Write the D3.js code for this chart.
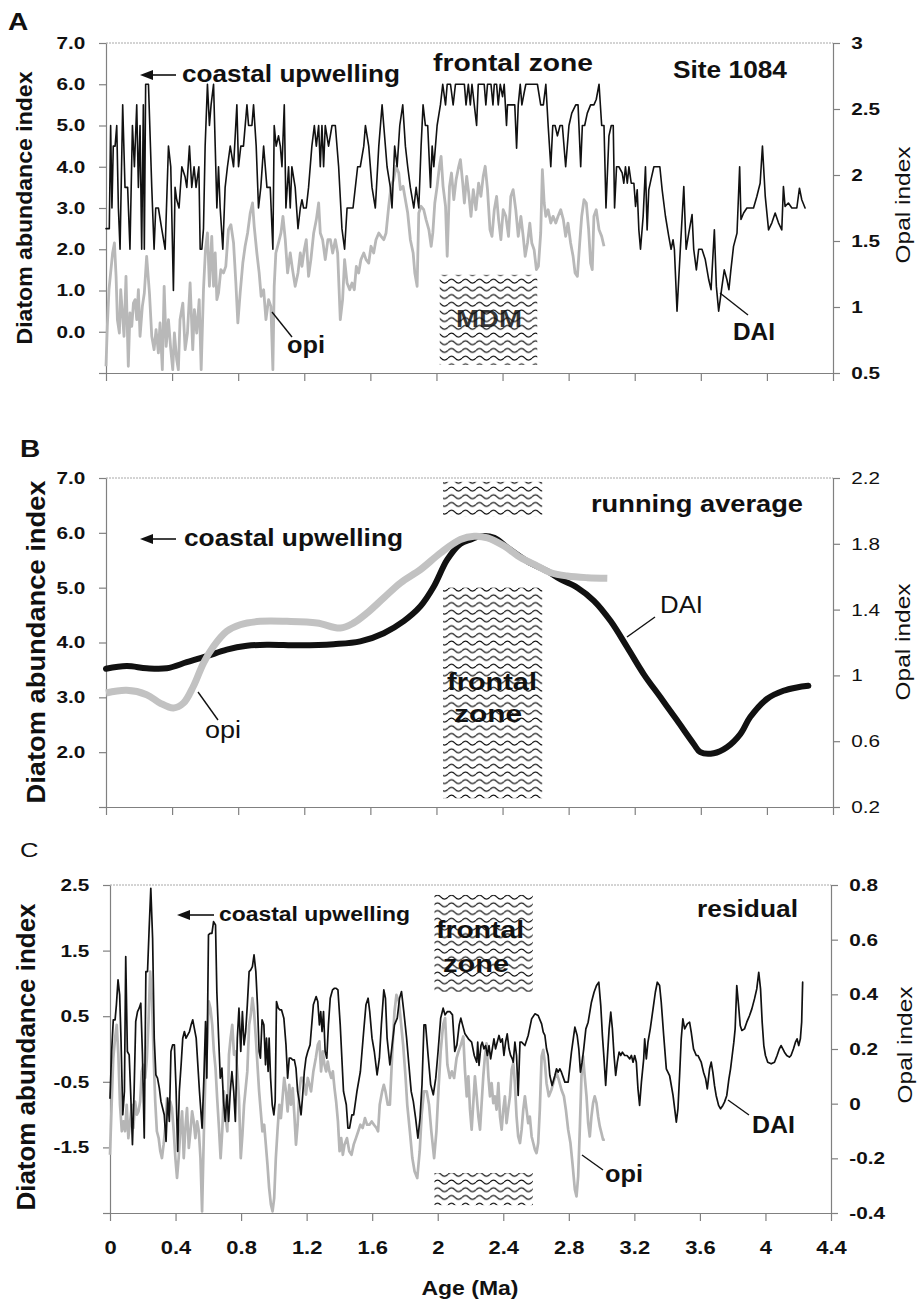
<!DOCTYPE html>
<html>
<head>
<meta charset="utf-8">
<script src="https://cdn.jsdelivr.net/npm/d3@7/dist/d3.min.js"></script>
<style>
  body { margin: 0; background: #fff; }
  text { font-family: "Liberation Sans", Arial, sans-serif; fill: #111; }
</style>
</head>
<body>
<div id="chart"></div>
<script>
// ---- data ----------------------------------------------------------------
const ageTicks = [0, 0.4, 0.8, 1.2, 1.6, 2, 2.4, 2.8, 3.2, 3.6, 4, 4.4];
const leftTicksA = [-1, 0, 1, 2, 3, 4, 5, 6, 7];
const rightTicksA = [0.5, 1, 1.5, 2, 2.5, 3];
const leftTicksB = [1, 2, 3, 4, 5, 6, 7];
const rightTicksB = [0.2, 0.6, 1, 1.4, 1.8, 2.2];
const leftTicksC = [-2.5, -1.5, -0.5, 0.5, 1.5, 2.5];
const rightTicksC = [-0.4, -0.2, 0, 0.2, 0.4, 0.6, 0.8];

// A: raw diatom abundance index [age Ma, DAI]
const daiA = [[0,2.5],[0.020,2.5],[0.028,5.0],[0.036,3.0],[0.044,4.5],[0.055,4.5],[0.065,5.0],[0.075,3.0],[0.085,2.0],[0.101,5.5],[0.115,3.5],[0.131,3.5],[0.145,2.0],[0.160,5.0],[0.172,4.0],[0.186,5.5],[0.196,3.5],[0.206,5.0],[0.216,2.0],[0.226,5.5],[0.232,2.0],[0.240,6.0],[0.257,6.0],[0.277,3.5],[0.291,2.0],[0.301,3.0],[0.317,3.0],[0.337,2.5],[0.358,2.0],[0.378,4.5],[0.392,4.0],[0.408,1.0],[0.418,3.5],[0.428,3.2],[0.442,3.0],[0.459,4.0],[0.479,3.75],[0.489,3.5],[0.505,4.5],[0.519,3.5],[0.533,4.0],[0.545,3.5],[0.562,4.0],[0.570,2.0],[0.580,2.0],[0.590,2.5],[0.600,4.5],[0.614,6.0],[0.626,5.0],[0.636,5.5],[0.651,6.0],[0.661,4.5],[0.671,3.0],[0.681,4.0],[0.691,3.0],[0.707,2.0],[0.721,3.5],[0.735,4.0],[0.752,4.5],[0.772,4.0],[0.792,5.5],[0.802,4.0],[0.816,4.5],[0.832,4.5],[0.853,5.5],[0.863,5.0],[0.883,5.0],[0.893,5.5],[0.909,4.5],[0.923,3.0],[0.937,3.5],[0.954,4.5],[0.974,3.5],[0.994,3.5],[1.010,2.0],[1.018,5.0],[1.030,4.5],[1.044,4.75],[1.055,4.5],[1.065,4.0],[1.079,5.5],[1.089,3.0],[1.105,4.0],[1.115,3.0],[1.125,4.0],[1.145,3.5],[1.162,2.5],[1.176,3.0],[1.186,3.2],[1.196,3.0],[1.212,3.0],[1.226,3.5],[1.246,4.5],[1.261,5.0],[1.273,4.5],[1.287,5.0],[1.297,4.0],[1.307,5.0],[1.317,4.0],[1.327,5.0],[1.347,4.5],[1.368,5.0],[1.388,5.0],[1.408,4.0],[1.428,2.5],[1.444,2.0],[1.459,3.0],[1.479,3.0],[1.495,3.0],[1.509,3.5],[1.523,4.0],[1.539,4.0],[1.560,4.5],[1.570,5.0],[1.590,4.5],[1.610,3.5],[1.630,3.0],[1.651,4.5],[1.671,5.5],[1.701,4.0],[1.721,3.5],[1.731,3.0],[1.747,4.5],[1.762,4.0],[1.778,5.0],[1.796,5.5],[1.812,4.5],[1.826,4.0],[1.842,3.5],[1.863,3.0],[1.877,3.5],[1.893,3.0],[1.907,4.5],[1.919,5.5],[1.933,5.0],[1.947,5.0],[1.964,3.5],[1.974,4.5],[1.984,4.0],[1.994,4.5],[2.004,5.0],[2.024,5.5],[2.038,6.0],[2.055,5.5],[2.065,6.0],[2.085,6.0],[2.101,5.5],[2.115,6.0],[2.145,6.0],
  [2.169,6.0],[2.179,5.5],[2.193,6.0],[2.205,5.5],[2.215,6.0],[2.229,5.5],[2.243,5.0],[2.253,6.0],[2.273,6.0],[2.289,6.0],[2.299,5.5],[2.309,6.0],[2.330,6.0],[2.342,5.5],[2.350,6.0],[2.364,6.0],[2.374,5.5],[2.386,6.0],[2.400,5.7],[2.410,6.0],[2.424,5.0],[2.430,5.5],[2.440,5.5],[2.460,5.5],[2.474,5.5],[2.485,4.45],[2.495,5.5],[2.507,6.0],[2.517,5.5],[2.531,5.8],[2.541,6.0],[2.561,6.0],[2.611,6.0],[2.631,5.5],[2.647,5.5],[2.662,6.0],[2.676,5.0],[2.692,4.0],[2.704,5.0],[2.718,5.0],[2.732,4.75],[2.748,5.0],[2.762,5.0],[2.782,4.0],[2.802,5.0],[2.819,5.3],[2.843,5.5],[2.857,5.5],[2.873,4.0],[2.883,5.0],[2.897,5.0],[2.913,5.3],[2.933,5.5],[2.953,5.5],[2.967,5.63],[2.984,6.0],[3.000,5.0],[3.014,5.0],[3.026,3.0],[3.044,4.75],[3.058,5.0],[3.070,5.0],[3.078,3.0],[3.090,4.0],[3.104,4.0],[3.124,3.85],[3.134,3.6],[3.144,4.0],[3.155,3.6],[3.165,4.0],[3.179,3.6],[3.195,3.6],[3.205,3.04],[3.215,3.44],[3.225,2.47],[3.235,2.0],[3.251,2.8],[3.265,4.0],[3.275,2.47],[3.285,3.44],[3.299,3.7],[3.316,4.0],[3.336,4.0],[3.352,4.0],[3.366,3.44],[3.386,2.8],[3.406,2.31],[3.420,2.0],[3.432,2.23],[3.440,2.0],[3.456,0.5],[3.476,2.0],[3.497,3.52],[3.511,2.0],[3.527,2.39],[3.547,2.84],[3.557,2.0],[3.573,1.5],[3.587,2.0],[3.607,2.0],[3.627,1.75],[3.648,1.26],[3.662,1.02],[3.682,2.47],[3.694,1.1],[3.708,0.5],[3.728,1.1],[3.742,1.5],[3.758,1.26],[3.770,1.02],[3.782,1.5],[3.798,2.07],[3.819,2.39],[3.835,4.0],[3.843,2.72],[3.859,2.88],[3.879,3.0],[3.919,3.0],[3.939,3.28],[3.959,3.6],[3.973,4.5],[3.990,3.28],[4.010,2.47],[4.030,2.64],[4.050,2.88],[4.070,2.64],[4.090,2.47],[4.100,3.52],[4.110,3.04],[4.130,3.12],[4.151,3.0],[4.181,3.0],[4.197,3.48],[4.211,3.2],[4.231,3.0]];

// A: raw opal index [age Ma, opi]
const opiA = [[0.000,0.551],[0.008,0.854],[0.018,1.131],[0.028,1.258],[0.040,1.409],[0.051,1.485],[0.061,1.232],[0.069,0.904],[0.081,0.803],[0.089,1.131],[0.099,0.955],[0.109,0.778],[0.121,1.232],[0.135,0.551],[0.145,0.955],[0.156,0.854],[0.166,1.030],[0.176,1.056],[0.186,0.904],[0.196,1.131],[0.206,0.778],[0.220,1.005],[0.232,1.106],[0.246,1.384],[0.263,1.106],[0.277,0.778],[0.291,0.677],[0.303,0.828],[0.317,0.652],[0.327,0.879],[0.341,0.525],[0.352,1.157],[0.364,0.702],[0.378,0.904],[0.392,0.677],[0.404,0.525],[0.414,0.803],[0.428,0.600],[0.438,0.525],[0.448,0.904],[0.465,1.030],[0.479,0.677],[0.493,0.803],[0.509,1.182],[0.525,0.677],[0.535,0.980],[0.549,0.803],[0.564,1.056],[0.576,0.525],[0.590,1.131],[0.602,1.434],[0.614,1.561],[0.626,1.157],[0.640,1.535],[0.651,1.157],[0.661,1.409],[0.671,1.056],[0.681,1.106],[0.695,1.283],[0.711,1.258],[0.725,1.308],[0.741,1.586],[0.756,1.624],[0.772,1.485],[0.786,1.182],[0.798,0.879],[0.812,1.106],[0.828,1.333],[0.842,1.460],[0.857,1.561],[0.873,1.712],[0.887,1.788],[0.897,1.611],[0.913,1.409],[0.927,1.258],[0.939,1.081],[0.954,1.131],[0.968,0.904],[0.984,1.056],[0.998,1.005],[1.010,0.525],[1.018,1.157],[1.028,1.409],[1.044,1.485],[1.059,1.561],[1.071,1.687],[1.085,1.510],[1.099,1.258],[1.115,1.409],[1.129,1.283],[1.145,1.157],[1.162,1.258],[1.176,1.409],[1.186,1.308],[1.200,1.434],[1.212,1.510],[1.226,1.232],[1.240,1.359],[1.257,1.561],[1.273,1.662],[1.287,1.788],[1.297,1.561],[1.311,1.510],[1.327,1.359],[1.343,1.510],[1.358,1.510],[1.372,1.409],[1.388,1.510],[1.402,1.409],[1.418,0.904],[1.432,1.056],[1.444,1.359],[1.459,1.182],[1.475,1.131],[1.489,1.182],[1.503,1.131],[1.515,1.308],[1.529,1.258],[1.543,1.359],[1.560,1.409],[1.574,1.359],[1.590,1.333],[1.604,1.460],[1.620,1.409],[1.634,1.510],[1.651,1.561],[1.665,1.535],[1.681,1.510],[1.695,1.561],[1.711,1.763],[1.725,1.914],[1.741,1.965],[1.756,2.066],[1.772,2.015],[1.782,1.889],[1.798,1.914],[1.812,1.813],[1.826,1.712],[1.842,1.510],[1.859,1.409],[1.869,1.258],[1.883,1.157],[1.893,1.712],[1.907,1.763],[1.923,1.737],[1.937,1.662],[1.954,1.586],[1.968,1.460],[1.978,1.561],[1.990,1.788],[2.004,1.914],[2.018,2.066],[2.028,2.141],[2.040,1.914],[2.055,1.763],[2.065,1.384],[2.079,1.914],[2.091,2.015],[2.105,1.813],[2.119,1.965],[2.135,2.066],[2.145,2.116],
  [2.159,1.939],[2.169,1.788],[2.183,1.990],[2.195,1.864],[2.209,1.687],[2.223,1.889],[2.239,1.737],[2.255,1.939],[2.269,1.838],[2.283,1.990],[2.295,2.066],[2.309,1.889],[2.324,1.586],[2.336,1.535],[2.350,1.737],[2.364,1.838],[2.376,1.662],[2.390,1.510],[2.404,1.737],[2.420,1.687],[2.436,1.535],[2.450,1.838],[2.464,1.889],[2.480,1.737],[2.495,1.535],[2.511,1.687],[2.525,1.535],[2.537,1.384],[2.551,1.485],[2.565,1.636],[2.577,1.485],[2.591,1.434],[2.605,1.283],[2.617,1.308],[2.631,1.561],[2.641,2.040],[2.652,1.788],[2.662,1.687],[2.676,1.737],[2.692,1.636],[2.706,1.687],[2.722,1.636],[2.736,1.687],[2.752,1.737],[2.768,1.662],[2.782,1.535],[2.796,1.636],[2.812,1.485],[2.827,1.384],[2.839,1.258],[2.853,1.232],[2.867,1.485],[2.879,1.687],[2.893,1.813],[2.907,1.788],[2.921,1.586],[2.933,1.333],[2.943,1.283],[2.953,1.687],[2.967,1.737],[2.984,1.586],[3.000,1.535],[3.014,1.460]];

// B: running averages
const daiB = [[0,3.52],[0.125,3.57],[0.246,3.53],[0.368,3.53],[0.489,3.64],[0.610,3.75],[0.731,3.87],[0.853,3.94],[0.974,3.96],[1.176,3.95],[1.378,3.97],[1.539,4.02],[1.681,4.17],[1.802,4.39],[1.903,4.66],[1.984,5.02],[2.065,5.51],[2.145,5.80],[2.209,5.88],[2.269,5.94],[2.350,5.91],[2.430,5.73],[2.551,5.48],[2.672,5.30],[2.752,5.15],[2.853,5.0],[2.953,4.76],[3.054,4.39],[3.155,3.91],[3.255,3.42],[3.356,3.0],[3.456,2.58],[3.557,2.15],[3.597,2.0],[3.678,1.98],[3.758,2.09],[3.839,2.33],[3.899,2.64],[4.000,2.97],[4.100,3.12],[4.181,3.18],[4.251,3.21]];
const opiB = [[0,0.893],[0.125,0.909],[0.246,0.883],[0.327,0.832],[0.408,0.802],[0.469,0.832],[0.529,0.934],[0.590,1.075],[0.651,1.177],[0.731,1.268],[0.812,1.308],[0.933,1.329],[1.095,1.329],[1.277,1.319],[1.418,1.288],[1.499,1.319],[1.580,1.379],[1.681,1.471],[1.782,1.562],[1.903,1.643],[2.024,1.744],[2.145,1.826],[2.229,1.846],[2.309,1.836],[2.410,1.786],[2.511,1.715],[2.611,1.665],[2.692,1.624],[2.792,1.604],[2.913,1.594],[3.034,1.590]];

// C: residuals
const daiC = [[0,-0.749],[0.010,-0.038],[0.020,0.444],[0.031,0.444],[0.039,0.673],[0.049,1.053],[0.059,0.825],[0.067,0.165],[0.078,-1.003],[0.088,-0.647],[0.096,1.409],[0.106,-0.038],[0.117,-0.089],[0.127,-0.723],[0.137,-1.459],[0.147,-0.647],[0.157,0.419],[0.168,0.571],[0.178,0.622],[0.188,0.698],[0.198,-0.089],[0.209,-1.358],[0.219,1.180],[0.229,1.180],[0.239,1.840],[0.249,2.449],[0.260,1.688],[0.270,0.165],[0.280,-0.393],[0.290,-0.444],[0.301,-0.596],[0.311,-0.799],[0.331,-1.003],[0.342,-1.409],[0.352,-0.749],[0.362,-1.104],[0.372,-0.038],[0.382,0.063],[0.393,0.063],[0.403,-0.596],[0.413,-1.561],[0.423,-0.647],[0.434,-0.241],[0.444,0.165],[0.454,0.266],[0.464,0.165],[0.485,0.266],[0.495,0.368],[0.505,0.444],[0.526,0.165],[0.546,-0.647],[0.562,-1.206],[0.573,-0.444],[0.583,0.419],[0.591,-0.444],[0.601,1.739],[0.611,1.764],[0.622,1.764],[0.632,1.942],[0.644,1.891],[0.652,0.876],[0.663,0.165],[0.673,-0.444],[0.683,-0.292],[0.693,-0.799],[0.703,-1.104],[0.714,-0.698],[0.724,-1.104],[0.734,-0.647],[0.744,-0.343],[0.755,-0.647],[0.765,-1.104],[0.777,0.165],[0.787,0.622],[0.798,-0.038],[0.808,0.571],[0.818,0.063],[0.828,0.266],[0.838,0.673],[0.849,1.180],[0.859,1.206],[0.869,1.256],[0.879,1.434],[0.890,1.180],[0.900,0.673],[0.910,-0.038],[0.918,-0.140],[0.928,0.444],[0.939,0.368],[0.949,-0.241],[0.955,0.165],[0.965,-0.343],[0.971,0.165],[0.980,-0.444],[0.990,-0.850],[1.000,-1.003],[1.008,-0.799],[1.016,0.723],[1.027,0.622],[1.037,0.596],[1.047,0.596],[1.061,0.470],[1.074,0.063],[1.084,-0.444],[1.094,-0.140],[1.104,-0.140],[1.115,-0.165],[1.125,-0.165],[1.135,-0.292],[1.145,-0.647],[1.155,-0.799],[1.166,-1.003],[1.176,-0.698],[1.186,-0.343],[1.196,-0.140],[1.207,-0.038],[1.221,0.063],[1.241,0.673],[1.258,0.799],[1.268,0.723],[1.278,0.368],[1.286,0.571],[1.294,0.266],[1.303,0.571],[1.313,-0.038],[1.323,-0.140],[1.333,0.368],[1.344,0.774],[1.358,0.901],[1.370,0.926],[1.380,0.926],[1.391,0.901],[1.405,0.368],[1.425,-0.647],[1.442,-0.850],[1.452,-1.206],[1.462,-1.206],[1.476,-1.003],[1.487,-1.003],[1.507,-0.647],[1.528,-0.343],[1.548,0.266],[1.562,0.673],[1.575,0.774],[1.585,0.571],[1.599,0.165],[1.613,-0.038],[1.630,-0.393],[1.644,-0.140],[1.656,0.368],[1.671,0.901],[1.681,0.774],[1.691,0.165],[1.708,-0.241],[1.722,0.063],[1.736,0.368],[1.753,0.470],[1.767,0.774],[1.779,0.876],[1.793,0.571],[1.810,0.165],[1.824,-0.241],[1.838,-0.647],[1.851,-0.799],[1.865,-1.053],[1.879,-1.358],[1.892,-1.053],[1.904,-0.546],[1.916,0.368],[1.926,0.368],[1.941,-0.089],[1.957,-0.546],[1.973,-0.698],[1.988,-0.444],[2.002,-0.038],[2.018,0.470],[2.033,0.622],[2.045,0.520],[2.059,0.571],[2.074,0.571],[2.090,0.520],[2.104,-0.038],[2.117,0.063],[2.131,0.368],[2.141,0.470],
  [2.166,0.231],[2.187,0.155],[2.207,0.104],[2.223,-0.099],[2.238,-0.201],[2.244,0.104],[2.252,-0.251],[2.264,0.053],[2.272,0.104],[2.282,0.003],[2.292,0.053],[2.303,-0.099],[2.313,0.053],[2.323,-0.150],[2.333,0.003],[2.343,0.155],[2.353,0.003],[2.363,0.104],[2.374,0.206],[2.384,0.104],[2.394,0.155],[2.404,-0.099],[2.414,0.104],[2.424,0.231],[2.435,0.003],[2.445,-0.099],[2.455,-0.150],[2.461,-0.201],[2.471,0.104],[2.481,-0.099],[2.491,-0.708],[2.502,0.104],[2.512,0.104],[2.532,0.053],[2.552,0.206],[2.573,0.459],[2.593,0.536],[2.613,0.510],[2.634,0.383],[2.644,0.256],[2.654,0.206],[2.664,0.003],[2.674,-0.099],[2.684,-0.404],[2.698,-0.556],[2.715,-0.404],[2.725,-0.302],[2.735,-0.353],[2.745,-0.302],[2.755,-0.353],[2.776,-0.505],[2.796,-0.505],[2.816,-0.048],[2.837,0.333],[2.851,0.206],[2.861,0.003],[2.871,-0.353],[2.881,-0.201],[2.891,0.003],[2.904,0.307],[2.918,0.409],[2.928,0.561],[2.938,0.713],[2.954,0.865],[2.969,0.967],[2.983,1.018],[2.995,0.662],[3.005,0.206],[3.015,-0.150],[3.025,-0.556],[3.036,-0.099],[3.046,0.307],[3.056,0.561],[3.066,0.307],[3.076,-0.099],[3.086,-0.404],[3.096,-0.201],[3.107,-0.048],[3.117,-0.099],[3.127,-0.048],[3.141,-0.099],[3.155,-0.099],[3.172,-0.150],[3.182,-0.099],[3.192,-0.201],[3.202,-0.099],[3.212,-0.201],[3.222,-0.607],[3.232,-0.860],[3.243,-0.505],[3.257,-0.150],[3.263,0.155],[3.273,-0.150],[3.283,0.104],[3.297,0.307],[3.314,0.612],[3.328,0.865],[3.340,1.018],[3.354,0.967],[3.364,0.713],[3.379,0.206],[3.395,-0.302],[3.415,-0.404],[3.436,-0.708],[3.456,-1.114],[3.466,-0.911],[3.476,-0.404],[3.486,0.155],[3.496,0.459],[3.507,0.307],[3.523,0.383],[3.537,0.409],[3.547,0.256],[3.561,0.003],[3.578,-0.099],[3.588,-0.099],[3.598,-0.150],[3.608,-0.201],[3.622,-0.353],[3.635,-0.454],[3.645,-0.607],[3.659,-0.302],[3.669,-0.201],[3.679,-0.353],[3.689,-0.556],[3.699,-0.708],[3.714,-0.860],[3.726,-0.911],[3.740,-0.860],[3.750,-0.810],[3.764,-0.708],[3.777,-0.454],[3.787,-0.302],[3.797,-0.099],[3.807,0.104],[3.815,0.307],[3.825,0.967],[3.836,0.662],[3.846,0.358],[3.856,0.282],[3.872,0.307],[3.886,0.409],[3.903,0.510],[3.917,0.612],[3.933,0.764],[3.947,0.916],[3.959,1.170],[3.970,0.916],[3.980,0.409],[3.990,0.053],[4.000,-0.099],[4.014,-0.201],[4.035,-0.226],[4.055,-0.201],[4.071,-0.099],[4.085,0.003],[4.095,0.053],[4.106,0.003],[4.116,-0.048],[4.130,-0.099],[4.146,-0.124],[4.156,-0.099],[4.171,0.003],[4.183,0.104],[4.193,0.155],[4.203,0.053],[4.213,0.155],[4.221,0.409],[4.227,1.018]];
const opiC = [[0,-0.187],[0.010,-0.004],[0.020,0.167],[0.031,0.240],[0.041,0.288],[0.051,0.179],[0.061,-0.004],[0.072,-0.101],[0.082,-0.065],[0.092,-0.101],[0.102,-0.004],[0.112,-0.126],[0.123,-0.065],[0.133,-0.004],[0.143,-0.089],[0.153,0.008],[0.164,-0.040],[0.174,-0.028],[0.184,0.008],[0.194,0.118],[0.204,0.142],[0.215,0.094],[0.225,0.167],[0.235,0.301],[0.245,0.483],[0.256,0.386],[0.266,0.179],[0.276,0.008],[0.286,-0.101],[0.297,-0.126],[0.307,-0.174],[0.317,-0.199],[0.327,-0.150],[0.337,-0.089],[0.348,0.020],[0.358,-0.040],[0.368,0.008],[0.378,-0.016],[0.389,-0.101],[0.399,-0.199],[0.409,-0.272],[0.419,-0.199],[0.429,-0.101],[0.440,-0.028],[0.450,-0.199],[0.460,-0.089],[0.470,-0.016],[0.481,-0.162],[0.491,-0.101],[0.501,-0.028],[0.511,-0.065],[0.521,-0.126],[0.532,-0.065],[0.542,-0.101],[0.552,-0.199],[0.562,-0.394],[0.573,-0.101],[0.583,0.118],[0.593,0.215],[0.603,0.374],[0.613,0.349],[0.624,0.288],[0.634,0.191],[0.644,0.130],[0.654,0.020],[0.665,-0.089],[0.675,-0.199],[0.685,-0.101],[0.695,0.045],[0.706,-0.053],[0.716,-0.101],[0.726,0.179],[0.736,0.240],[0.746,0.288],[0.757,0.179],[0.767,0.191],[0.777,0.118],[0.787,0.020],[0.798,-0.199],[0.808,-0.114],[0.818,-0.004],[0.828,0.057],[0.838,0.118],[0.849,0.288],[0.859,0.325],[0.869,0.386],[0.879,0.337],[0.890,0.240],[0.900,0.142],[0.910,0.045],[0.920,-0.028],[0.930,-0.101],[0.941,-0.077],[0.951,-0.150],[0.961,-0.223],[0.971,-0.308],[0.982,-0.369],[0.992,-0.394],[1.002,-0.345],[1.012,-0.199],[1.022,-0.101],[1.033,-0.004],[1.043,-0.053],[1.053,0.020],[1.063,0.094],[1.074,0.045],[1.084,-0.028],[1.094,0.069],[1.104,-0.004],[1.115,0.057],[1.125,-0.040],[1.135,-0.150],[1.145,-0.077],[1.155,0.045],[1.166,0.094],[1.176,0.094],[1.186,0.069],[1.196,0.033],[1.207,0.094],[1.217,0.069],[1.227,0.045],[1.241,0.118],[1.256,0.167],[1.268,0.215],[1.278,0.228],[1.288,0.118],[1.299,0.191],[1.309,0.142],[1.319,0.118],[1.329,0.154],[1.339,0.118],[1.350,0.094],[1.360,0.118],[1.370,0.057],[1.380,0.008],[1.391,-0.065],[1.401,-0.174],[1.411,-0.126],[1.421,-0.187],[1.431,-0.150],[1.446,-0.126],[1.460,-0.174],[1.474,-0.187],[1.487,-0.150],[1.501,-0.126],[1.515,-0.101],[1.528,-0.077],[1.542,-0.089],[1.556,-0.053],[1.569,-0.077],[1.583,-0.077],[1.597,-0.065],[1.611,-0.077],[1.626,-0.089],[1.636,-0.101],[1.646,-0.004],[1.661,0.045],[1.671,0.069],[1.681,0.045],[1.695,-0.004],[1.708,-0.004],[1.722,0.179],[1.736,0.337],[1.748,0.398],[1.763,0.374],[1.777,0.288],[1.789,0.215],[1.804,0.094],[1.814,-0.004],[1.830,-0.101],[1.845,-0.199],[1.859,-0.248],[1.875,-0.272],[1.890,-0.174],[1.902,-0.040],[1.916,0.045],[1.933,0.045],[1.947,-0.004],[1.961,-0.101],[1.978,-0.199],[1.992,-0.101],[2.004,0.045],[2.018,0.191],[2.033,0.288],[2.045,0.313],[2.059,0.142],[2.074,0.094],[2.086,0.118],[2.100,0.094],[2.115,0.167],[2.127,0.191],[2.141,0.215],
  [2.156,0.246],[2.166,0.124],[2.177,0.027],[2.187,0.100],[2.197,-0.022],[2.207,-0.095],[2.217,0.002],[2.227,0.100],[2.238,0.027],[2.248,-0.047],[2.258,-0.095],[2.268,0.002],[2.278,0.100],[2.288,0.173],[2.298,0.221],[2.309,0.100],[2.319,0.027],[2.329,0.075],[2.339,0.002],[2.349,0.027],[2.359,-0.022],[2.370,0.075],[2.380,-0.047],[2.390,-0.095],[2.400,-0.022],[2.410,0.027],[2.420,-0.071],[2.430,-0.022],[2.441,0.027],[2.451,0.124],[2.461,0.148],[2.471,0.075],[2.481,-0.047],[2.491,-0.120],[2.502,-0.144],[2.512,-0.095],[2.522,-0.022],[2.532,0.027],[2.542,-0.022],[2.552,-0.071],[2.562,-0.047],[2.573,-0.120],[2.583,-0.144],[2.593,-0.168],[2.603,-0.181],[2.613,-0.144],[2.623,-0.022],[2.634,0.173],[2.644,0.197],[2.654,0.148],[2.664,0.075],[2.678,0.027],[2.694,0.051],[2.711,0.087],[2.725,0.112],[2.739,0.087],[2.755,0.051],[2.770,0.027],[2.782,-0.022],[2.796,-0.095],[2.810,-0.144],[2.822,-0.217],[2.837,-0.315],[2.847,-0.339],[2.857,-0.266],[2.867,-0.095],[2.877,0.100],[2.887,0.173],[2.897,0.100],[2.908,0.027],[2.918,-0.071],[2.928,-0.120],[2.938,-0.047],[2.948,0.002],[2.958,0.027],[2.969,0.002],[2.979,-0.047],[2.989,-0.083],[2.999,-0.107],[3.009,-0.132],[3.020,-0.132]];

// hatched zones, in data units [age0, age1, left0, left1]
const zonesA = [[2.02, 2.61, -0.8, 1.38]];
const zonesB = [[2.04, 2.64, 6.29, 6.93], [2.04, 2.64, 1.16, 5.0]];
const zonesC = [[1.98, 2.58, 0.87, 2.35], [1.98, 2.58, -2.38, -1.89]];

// ---- drawing -------------------------------------------------------------
const W = 922, H = 1303, SX = 1.22, AX = "#808080";

const svg = d3.select("#chart").append("svg")
    .attr("width", W).attr("height", H)
    .style("background", "#fff");

const defs = svg.append("defs");
const pat = defs.append("pattern")
    .attr("id", "wave").attr("patternUnits", "userSpaceOnUse")
    .attr("width", 14).attr("height", 7.7);
pat.append("path")
    .attr("d", "M0,4 C2.3,1.4 4.7,1.4 7,4 C9.3,6.6 11.7,6.6 14,4")
    .attr("fill", "none").attr("stroke", "#111").attr("stroke-width", 1.2);

function txt(g, x, y, s, size, weight, anchor, len) {
    const t = g.append("text")
        .attr("font-size", size)
        .attr("font-weight", weight || "bold")
        .attr("text-anchor", anchor || "start")
        .text(s);
    if (len) {
        t.attr("x", x).attr("y", y)
         .attr("textLength", len).attr("lengthAdjust", "spacingAndGlyphs");
    } else {
        t.attr("transform", "translate(" + x + "," + y + ") scale(" + SX + ",1)");
    }
    return t;
}

function vtxt(g, x, y, s, size, weight, len) {
    g.append("text")
        .attr("transform", "translate(" + x + "," + y + ") rotate(-90)")
        .attr("font-size", size)
        .attr("font-weight", weight)
        .attr("text-anchor", "middle")
        .attr("textLength", len).attr("lengthAdjust", "spacingAndGlyphs")
        .text(s);
}

function leader(g, x1, y1, x2, y2) {
    g.append("line").attr("x1", x1).attr("y1", y1).attr("x2", x2).attr("y2", y2)
        .attr("stroke", "#111").attr("stroke-width", 1.4);
}

function arrow(g, xTail, xHead, y) {
    g.append("line").attr("x1", xTail).attr("x2", xHead + 10).attr("y1", y).attr("y2", y)
        .attr("stroke", "#111").attr("stroke-width", 1.6);
    g.append("path")
        .attr("d", "M" + xHead + "," + y + "L" + (xHead + 13) + "," + (y - 5) +
                   "L" + (xHead + 13) + "," + (y + 5) + "Z")
        .attr("fill", "#111");
}

function panel(cfg) {
    const g = svg.append("g");
    const x = d3.scaleLinear().domain([0, 4.4]).range(cfg.xr);
    const yl = d3.scaleLinear().domain(cfg.left).range(cfg.yr);
    const yr = d3.scaleLinear().domain(cfg.right).range(cfg.yr);

    // hatched zones
    cfg.zones.forEach(z => {
        const r = { x: x(z[0]), y: yl(z[3]), w: x(z[1]) - x(z[0]), h: yl(z[2]) - yl(z[3]) };
        g.append("rect").attr("x", r.x).attr("y", r.y).attr("width", r.w).attr("height", r.h)
            .attr("fill", "#fff");
        g.append("rect").attr("x", r.x).attr("y", r.y).attr("width", r.w).attr("height", r.h)
            .attr("fill", "url(#wave)");
    });

    // top border
    g.append("line")
        .attr("x1", cfg.xr[0]).attr("x2", cfg.xr[1])
        .attr("y1", cfg.yr[1]).attr("y2", cfg.yr[1])
        .attr("stroke", "#a8a8a8").attr("stroke-width", 1).attr("stroke-dasharray", "2,1");

    // axes
    const gx = g.append("g").attr("transform", "translate(0," + cfg.yr[0] + ")")
        .call(d3.axisBottom(x).tickValues(ageTicks).tickSize(8).tickSizeOuter(0)
            .tickPadding(20).tickFormat(cfg.xLabels ? (d => String(d)) : ""));
    const gl = g.append("g").attr("transform", "translate(" + cfg.xr[0] + ",0)")
        .call(d3.axisLeft(yl).tickValues(cfg.leftTicks).tickSize(7).tickSizeOuter(0)
            .tickPadding(10).tickFormat(d => d === cfg.left[0] ? "" : d.toFixed(1)));
    const gr = g.append("g").attr("transform", "translate(" + cfg.xr[1] + ",0)")
        .call(d3.axisRight(yr).tickValues(cfg.rightTicks).tickSize(7).tickSizeOuter(0)
            .tickPadding(8).tickFormat(d => String(d)));

    [gx, gl, gr].forEach(a => {
        a.attr("font-family", null).attr("font-size", null);
        a.selectAll("path, line").attr("stroke", AX).attr("stroke-width", 1.2);
        a.selectAll("text").attr("font-size", 17).attr("font-weight", "bold")
            .attr("fill", "#111").attr("transform", "scale(" + SX + ",1)");
    });
    gr.selectAll("text").attr("font-weight", cfg.rightWeight);
    gx.selectAll("text").attr("font-size", 18);

    const lineL = d3.line().x(d => x(d[0])).y(d => yl(d[1])).curve(cfg.curve);
    const lineR = d3.line().x(d => x(d[0])).y(d => yr(d[1])).curve(cfg.curve);

    const drawOpi = () => g.append("path").datum(cfg.opi).attr("d", lineR)
        .attr("fill", "none").attr("stroke", cfg.opiColor).attr("stroke-width", cfg.opiWidth)
        .attr("stroke-linejoin", "round");
    const drawDai = () => g.append("path").datum(cfg.dai).attr("d", lineL)
        .attr("fill", "none").attr("stroke", "#111").attr("stroke-width", cfg.daiWidth)
        .attr("stroke-linejoin", "round").attr("stroke-linecap", "round");
    if (cfg.opiOnTop) { drawDai(); drawOpi(); } else { drawOpi(); drawDai(); }

    return g;
}

// ---- panel A ----
const gA = panel({
    xr: [106, 833], yr: [373, 43], left: [-1, 7], right: [0.5, 3],
    leftTicks: leftTicksA, rightTicks: rightTicksA, rightWeight: "bold",
    zones: zonesA, dai: daiA, opi: opiA, curve: d3.curveLinear,
    daiWidth: 1.6, opiWidth: 2.8, opiColor: "#b8b8b8", opiOnTop: false, xLabels: false
});
txt(gA, 8, 30, "A", 23, "bold");
vtxt(gA, 32, 208, "Diatom abundance index", 22, "bold", 273);
vtxt(gA, 910, 205, "Opal index", 21, "normal", 117);
arrow(gA, 176, 140, 75);
txt(gA, 182, 82, "coastal upwelling", 23, "bold", "start", 218);
txt(gA, 433, 71, "frontal zone", 23, "bold", "start", 160);
txt(gA, 673, 78, "Site 1084", 23, "bold", "start", 114);
leader(gA, 272, 312, 292, 337);
txt(gA, 287, 353, "opi", 23, "bold", "start", 38);
leader(gA, 720, 293, 748, 315);
txt(gA, 733, 340, "DAI", 23, "bold", "start", 42);
txt(gA, 489, 327, "MDM", 23, "bold", "middle", 66).attr("fill-opacity", 0.85);

// ---- panel B ----
const gB = panel({
    xr: [106, 833], yr: [807, 478], left: [1, 7], right: [0.2, 2.2],
    leftTicks: leftTicksB, rightTicks: rightTicksB, rightWeight: "normal",
    zones: zonesB, dai: daiB, opi: opiB, curve: d3.curveCatmullRom,
    daiWidth: 6, opiWidth: 7, opiColor: "#c2c2c2", opiOnTop: true, xLabels: false
});
txt(gB, 20, 457, "B", 23, "bold");
vtxt(gB, 45, 642, "Diatom abundance index", 26, "bold", 323);
vtxt(gB, 910, 642, "Opal index", 21, "normal", 117);
arrow(gB, 176, 140, 539);
txt(gB, 184, 546, "coastal upwelling", 23, "bold", "start", 219);
txt(gB, 591, 512, "running average", 23, "bold", "start", 212);
txt(gB, 492, 690, "frontal", 24, "bold", "middle", 90);
txt(gB, 488, 722, "zone", 24, "bold", "middle", 68);
leader(gB, 198, 692, 218, 720);
txt(gB, 205, 738, "opi", 23, "normal", "start", 36);
leader(gB, 627, 637, 655, 617);
txt(gB, 660, 613, "DAI", 23, "normal", "start", 43);

// ---- panel C ----
const gC = panel({
    xr: [110, 831], yr: [1213, 885], left: [-2.5, 2.5], right: [-0.4, 0.8],
    leftTicks: leftTicksC, rightTicks: rightTicksC, rightWeight: "bold",
    zones: zonesC, dai: daiC, opi: opiC, curve: d3.curveLinear,
    daiWidth: 1.7, opiWidth: 2.7, opiColor: "#b6b6b6", opiOnTop: false, xLabels: true
});
txt(gC, 20, 857, "C", 21, "normal");
vtxt(gC, 35, 1057, "Diatom abundance index", 25, "bold", 307);
vtxt(gC, 912, 1045, "Opal index", 21, "normal", 117);
arrow(gC, 214, 177, 915);
txt(gC, 219, 921, "coastal upwelling", 20, "bold", "start", 191);
txt(gC, 697, 917, "residual", 23, "bold", "start", 101);
txt(gC, 480, 938, "frontal", 24, "bold", "middle", 88);
txt(gC, 476, 972, "zone", 24, "bold", "middle", 66);
leader(gC, 582, 1155, 603, 1170);
txt(gC, 605, 1182, "opi", 23, "bold", "start", 38);
leader(gC, 728, 1100, 749, 1115);
txt(gC, 752, 1133, "DAI", 23, "bold", "start", 43);
txt(gC, 470, 1295, "Age (Ma)", 20, "bold", "middle", 97);
</script>
</body>
</html>
